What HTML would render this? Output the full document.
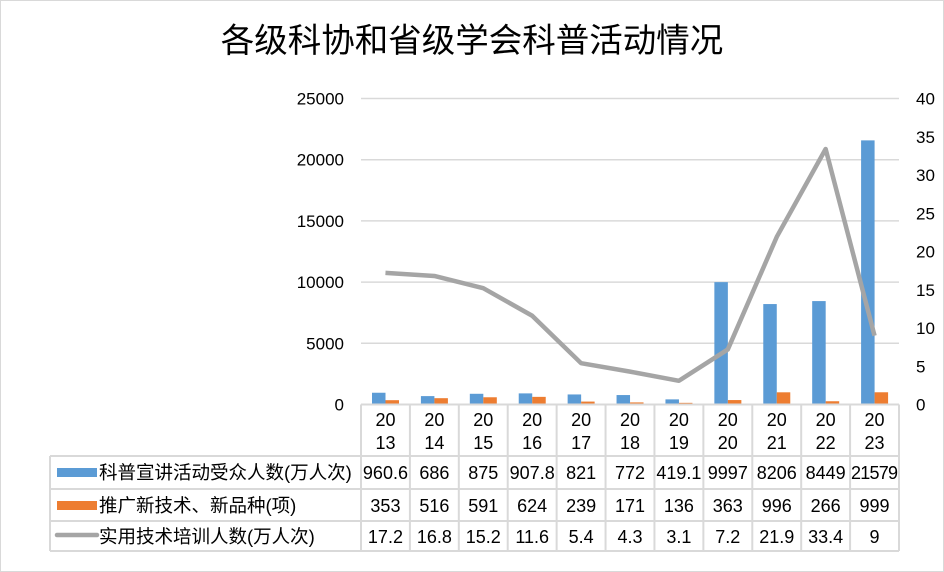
<!DOCTYPE html>
<html><head><meta charset="utf-8"><style>
html,body{margin:0;padding:0;background:#fff}
svg{display:block}
text{font-family:"Liberation Sans","Noto Sans CJK SC",sans-serif;fill:#000}
</style></head><body>
<svg id="c" width="944" height="572" xmlns="http://www.w3.org/2000/svg">
<rect x="0.5" y="0.5" width="943" height="571" fill="#fff" stroke="#d9d9d9"/>
<text x="472" y="52" font-size="33.5" text-anchor="middle">各级科协和省级学会科普活动情况</text>
</svg>
<script>
var s=document.getElementById('c'),NS='http://www.w3.org/2000/svg';
function el(t,a,txt){var e=document.createElementNS(NS,t);for(var k in a)e.setAttribute(k,a[k]);if(txt!=null)e.textContent=txt;s.appendChild(e);return e;}
var L=361,R=899,W=(R-L)/11,Y0=404.5,Y1=98.5,H=Y0-Y1;
var a=[960.6,686,875,907.8,821,772,419.1,9997,8206,8449,21579];
var b=[353,516,591,624,239,171,136,363,996,266,999];
var c=[17.2,16.8,15.2,11.6,5.4,4.3,3.1,7.2,21.9,33.4,9];
for(var i=0;i<=5;i++){var y=Y0-H*i/5;
 if(i>0)el('line',{x1:L,x2:R,y1:y,y2:y,stroke:'#d9d9d9','stroke-width':1.5});
 el('text',{x:344,y:y+6,'font-size':17,'text-anchor':'end'},String(i*5000));}
for(var i=0;i<=8;i++){var y=Y0-H*i/8;el('text',{x:916,y:y+6,'font-size':17},String(i*5));}
for(var i=0;i<11;i++){var x=L+W*i;
 var ha=a[i]/25000*H,hb=b[i]/25000*H;
 el('rect',{x:x+11,y:Y0-ha,width:13.5,height:ha,fill:'#5b9bd5'});
 el('rect',{x:x+24.5,y:Y0-hb,width:13.5,height:hb,fill:'#ed7d31'});}
var p='';for(var i=0;i<11;i++){p+=(i?'L':'M')+(L+W*(i+.5))+' '+(Y0-c[i]*H/40);}
el('path',{d:p,fill:'none',stroke:'#a5a5a5','stroke-width':4.5,'stroke-linejoin':'round'});
var g='#d9d9d9';
el('line',{x1:L,x2:R,y1:Y0,y2:Y0,stroke:g,'stroke-width':2});
var rows=[456,489,521,551];
rows.forEach(function(y){el('line',{x1:50,x2:R,y1:y,y2:y,stroke:g,'stroke-width':2});});
el('line',{x1:50,x2:50,y1:456,y2:551,stroke:g,'stroke-width':2});
for(var i=0;i<=11;i++){var x=L+W*i;el('line',{x1:x,x2:x,y1:Y0,y2:551,stroke:g,'stroke-width':2});}
var yrs=['13','14','15','16','17','18','19','20','21','22','23'];
for(var i=0;i<11;i++){var cx=L+W*(i+.5);
 el('text',{x:cx,y:426,'font-size':18,'text-anchor':'middle'},'20');
 el('text',{x:cx,y:449,'font-size':18,'text-anchor':'middle'},yrs[i]);
 el('text',{x:cx,y:479,'font-size':18,'text-anchor':'middle',textLength:(a[i]==21579?47:null)},String(a[i]));
 el('text',{x:cx,y:512,'font-size':18,'text-anchor':'middle'},String(b[i]));
 el('text',{x:cx,y:543,'font-size':18,'text-anchor':'middle'},String(c[i]));}
el('rect',{x:57,y:468,width:40,height:9,fill:'#5b9bd5'});
el('rect',{x:57,y:501,width:40,height:9,fill:'#ed7d31'});
el('line',{x1:57,x2:97,y1:535,y2:535,stroke:'#a5a5a5','stroke-width':4.5,'stroke-linecap':'round'});
el('text',{x:99,y:479,'font-size':18.5},'科普宣讲活动受众人数(万人次)');
el('text',{x:99,y:512,'font-size':18.5},'推广新技术、新品种(项)');
el('text',{x:99,y:543,'font-size':18.5},'实用技术培训人数(万人次)');
</script>
</body></html>
